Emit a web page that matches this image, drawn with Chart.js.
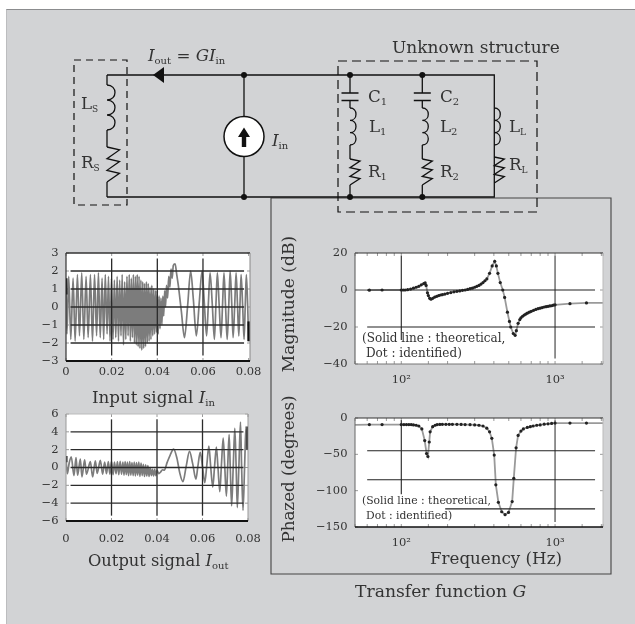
<!DOCTYPE html>
<html>
<head>
<meta charset="utf-8">
<script src="https://cdn.jsdelivr.net/npm/chart.js@4"></script>
<style>
html, body { margin: 0; padding: 0; background: #fff; }
body { width: 635px; height: 624px; position: relative; overflow: hidden; }
#sheet { position: absolute; left: 6px; top: 9px; right: 0; bottom: 0; background: #d2d3d5; border-top: 1px solid #8b8c8e; border-left: 1px solid #bcbdbf; }
canvas { position: absolute; }
#circuit { position: absolute; left: 0; top: 0; pointer-events: none; font-family: 'DejaVu Serif', serif; fill: #333; }
</style>
</head>
<body>
<div id="sheet"></div>
<canvas id="input-chart" width="235" height="142" style="left:30px;top:243px"></canvas>
<canvas id="output-chart" width="235" height="147" style="left:30px;top:404px"></canvas>
<canvas id="mag-chart" width="310" height="140" style="left:310px;top:243px"></canvas>
<canvas id="phase-chart" width="310" height="140" style="left:310px;top:408px"></canvas>
<svg id="circuit" width="635" height="624"></svg>
<script>
// values
const timeTicks = [0, 0.02, 0.04, 0.06, 0.08];
const timeTickLabels = ['0', '0.02', '0.04', '0.06', '0.08'];

const inputTicks = [-3, -2, -1, 0, 1, 2, 3];
const inputTime = [0, 0.0004, 0.0012, 0.0021, 0.0031, 0.0040, 0.0050, 0.0059, 0.0069, 0.0078, 0.0088, 0.0097, 0.0107, 0.0116, 0.0125, 0.0134, 0.0142, 0.0150, 0.0158, 0.0165, 0.0172, 0.0180, 0.0186, 0.0193, 0.0199, 0.0206, 0.0212, 0.0218, 0.0224, 0.0230, 0.0235, 0.0241, 0.0246, 0.0252, 0.0257, 0.0262, 0.0267, 0.0272, 0.0277, 0.0282, 0.0286, 0.0291, 0.0295, 0.0300, 0.0304, 0.0308, 0.0312, 0.0316, 0.0320, 0.0324, 0.0328, 0.0332, 0.0336, 0.0340, 0.0344, 0.0348, 0.0352, 0.0356, 0.0360, 0.0364, 0.0368, 0.0372, 0.0376, 0.0380, 0.0384, 0.0388, 0.0392, 0.0396, 0.0400, 0.0404, 0.0408, 0.0412, 0.0416, 0.0420, 0.0424, 0.0428, 0.0432, 0.0436, 0.0440, 0.0445, 0.0450, 0.0455, 0.0460, 0.0465, 0.0470, 0.0478, 0.0484, 0.0492, 0.0505, 0.0519, 0.0533, 0.0546, 0.0558, 0.0571, 0.0584, 0.0596, 0.0606, 0.0616, 0.0624, 0.0631, 0.0641, 0.0650, 0.0657, 0.0663, 0.0671, 0.0679, 0.0686, 0.0692, 0.0699, 0.0706, 0.0713, 0.0719, 0.0726, 0.0732, 0.0739, 0.0745, 0.0751, 0.0757, 0.0762, 0.0767, 0.0774, 0.0780, 0.0785, 0.0790, 0.0796, 0.0800];
const inputValues = [1.2, -1.5, 1.7, -1.8, 1.6, -1.9, 1.8, -1.6, 1.9, -1.8, 1.7, -1.7, 1.8, -1.9, 1.8, -1.6, 1.9, -1.7, 1.6, -1.8, 1.8, -1.5, 1.7, -1.9, 1.6, -1.8, 1.5, -1.7, 1.7, -1.9, 1.5, -1.6, 1.8, -2.1, 1.4, -1.8, 1.7, -1.6, 1.8, -1.9, 1.6, -1.7, 1.8, -2.0, 1.7, -2.1, 1.8, -2.2, 1.7, -2.3, 1.5, -2.4, 1.4, -2.3, 1.3, -2.2, 1.4, -2.0, 1.3, -1.9, 1.1, -1.8, 1.2, -1.6, 1.0, -1.5, 0.9, -1.4, 0.9, -1.5, 0.6, -1.2, 0.5, -1.0, 0.6, -0.5, 0.9, 0.0, 1.2, 0.5, 1.7, 1.1, 2.1, 1.6, 2.3, 2.4, 1.9, 1.2, -0.2, -1.7, 0.1, 2.0, 0.4, -1.6, 0.3, 2.0, 0.2, -1.6, 0.3, 1.9, 0.1, -1.8, 0.2, 1.9, 0.1, -1.7, 0.2, 1.9, 0.0, -1.8, 0.1, 2.0, 0.2, -1.7, 0.1, 1.9, 0.2, -1.6, 0.1, 1.8, 0.0, -1.8, 0.0, 1.8, 0.0, -1.9];
const inputGridValues = [-2, -1, 0, 1, 2];
const inputGridX = [0.002, 0.078];
const inputGridTimes = [0.02, 0.04, 0.06];
const inputGridY = [-2.7, 2.7];
const inputEdgeStart = [0.7, 1.6];
const inputEdgeEnd = [-1.9, -0.8];

const outputTicks = [-6, -4, -2, 0, 2, 4, 6];
const outputTime = [0, 0.0006, 0.0014, 0.0023, 0.0035, 0.0044, 0.0051, 0.0063, 0.0070, 0.0082, 0.0090, 0.0107, 0.0117, 0.0129, 0.0137, 0.0151, 0.0161, 0.0170, 0.0178, 0.0186, 0.0193, 0.0200, 0.0207, 0.0213, 0.0220, 0.0226, 0.0232, 0.0238, 0.0244, 0.0250, 0.0255, 0.0260, 0.0265, 0.0270, 0.0275, 0.0280, 0.0285, 0.0290, 0.0295, 0.0300, 0.0305, 0.0310, 0.0315, 0.0320, 0.0325, 0.0330, 0.0335, 0.0340, 0.0345, 0.0350, 0.0355, 0.0360, 0.0365, 0.0370, 0.0375, 0.0380, 0.0385, 0.0390, 0.0395, 0.0400, 0.0408, 0.0416, 0.0424, 0.0432, 0.0445, 0.0458, 0.0473, 0.0488, 0.0500, 0.0514, 0.0528, 0.0543, 0.0557, 0.0571, 0.0580, 0.0590, 0.0600, 0.0610, 0.0619, 0.0628, 0.0636, 0.0645, 0.0653, 0.0661, 0.0668, 0.0676, 0.0683, 0.0691, 0.0698, 0.0705, 0.0711, 0.0717, 0.0722, 0.0728, 0.0735, 0.0742, 0.0748, 0.0753, 0.0760, 0.0767, 0.0772, 0.0778, 0.0785, 0.0791, 0.0796, 0.0800];
const outputValues = [1.0, -0.7, 0.5, 1.2, -0.9, 1.1, -0.85, 0.95, -1.05, 0.85, -0.75, 0.65, -1.05, 0.75, -0.65, 0.8, -0.75, 0.6, -0.7, 0.65, -0.75, 0.7, -0.8, 0.6, -0.7, 0.65, -0.8, 0.7, -0.75, 0.6, -0.85, 0.65, -0.8, 0.6, -0.9, 0.65, -0.85, 0.55, -0.9, 0.6, -0.95, 0.55, -0.85, 0.6, -1.0, 0.5, -0.9, 0.35, -1.0, 0.3, -0.95, 0.2, -1.0, 0.0, -0.9, -0.2, -0.95, -0.2, -0.9, -0.3, -0.7, -0.5, -0.25, -0.3, 0.6, 1.4, 2.05, 1.0, -0.6, -1.6, 0.1, 1.8, 0.4, -1.3, 0.2, 1.7, 0.1, -1.7, 0.3, 2.4, 0.1, -2.2, 0.1, 2.3, 0.0, -2.7, 0.2, 3.3, 0.0, -3.2, 0.3, 3.7, 0.0, -4.3, 0.0, 4.4, 0.0, -4.5, 0.2, 5.1, 0.0, -4.8, 0.0, 4.6, 2.0];
const outputGridValues = [-4, -2, 0, 2, 4];
const outputGridX = [0.002, 0.078];
const outputGridTimes = [0.02, 0.04, 0.06];
const outputGridY = [-5.4, 5.4];
const outputEdgeStart = [0.6, 1.3];
const outputEdgeEnd = [2, 4.6];

const magTicks = [-40, -20, 0, 20];
const magFreq = [50, 62, 75, 100, 103, 106, 110, 115, 120, 125, 130, 135, 140, 143, 145, 148, 150, 153, 156, 160, 165, 170, 175, 180, 185, 192, 200, 210, 220, 230, 240, 250, 260, 270, 280, 290, 300, 310, 320, 330, 340, 350, 360, 375, 390, 405, 415, 425, 440, 457, 470, 490, 505, 515, 535, 550, 560, 575, 590, 600, 615, 630, 645, 660, 680, 700, 725, 750, 775, 800, 825, 850, 875, 900, 925, 950, 975, 1000, 1250, 1600, 2050];
const magTheory = [0, -0.1, 0, 0, 0, 0, 0.2, 0.5, 1, 1.5, 2, 2.8, 3.5, 3.8, 2.5, -1.5, -3, -4.5, -5, -4.5, -3.8, -3.4, -3, -2.7, -2.5, -2.2, -1.8, -1.4, -1, -0.7, -0.5, -0.2, 0, 0.3, 0.7, 1, 1.5, 2, 2.5, 3.2, 4, 5, 6, 9, 13, 15.5, 13, 9, 4, 0, -4, -12, -17, -20, -23.5, -24.5, -22, -18, -16, -15, -14.2, -13.5, -13, -12.5, -12, -11.5, -11, -10.5, -10.1, -9.8, -9.5, -9.2, -9, -8.8, -8.6, -8.5, -8.2, -8, -7.4, -7, -7];
const magDotFreq = magFreq.slice(1, -1);
const magIdentified = magTheory.slice(1, -1);
const magGridValues = [0, -20];
const magGridX = [60, 1820];
const magLine100 = [-27, 18.5];
const magLine1000 = [-37, 18.5];

const phaseTicks = [-150, -100, -50, 0];
const phaseFreq = [50, 62, 75, 100, 104, 108, 112, 116, 120, 125, 130, 136, 142, 146, 149, 152, 154, 160, 166, 171, 178, 185, 195, 205, 215, 230, 245, 260, 280, 300, 320, 340, 360, 375, 388, 402, 412, 428, 450, 473, 498, 526, 539, 558, 575, 600, 622, 660, 690, 720, 760, 800, 850, 900, 950, 1000, 1250, 1600, 2050];
const phaseTheory = [-9.5, -9, -9, -9, -9, -9, -9, -9, -9.5, -10, -11, -15, -31, -49, -53, -33, -19, -12, -10, -9, -8.8, -8.7, -8.7, -8.7, -8.7, -8.7, -8.8, -9, -9.2, -9.5, -10, -11, -14, -19, -28, -51, -92, -116, -129, -133, -130, -115, -83, -41, -24, -18, -15, -13, -12, -11, -10, -9.5, -8.5, -8, -7.5, -7, -7, -7, -7];
const phaseDotFreq = phaseFreq.slice(1, -1);
const phaseIdentified = phaseTheory.slice(1, -1);
const phaseGridValues = [-45, -85];
const phaseGridX = [60, 1820];
const phaseShortGridValue = -125;
const phaseShortGridX = [193, 1820];
const phaseLine100 = [-105, -3];
const phaseLine1000 = [-143, -3];

const LINE_GREY = '#7c7c7c';
const GRID_DARK = '#2b2b2b';
const TEXT = '#333';
const TICK_FONT = { family: "'DejaVu Serif', serif", size: 11.5 };

function zip(xs, ys) {
    return xs.map((x, i) => ({ x: x, y: ys[i] }));
}

function hLine(y, xs, color, width) {
    return { data: xs.map(x => ({ x: x, y: y })), borderColor: color || GRID_DARK, borderWidth: width || 1.3, pointRadius: 0, order: 0 };
}

function vLine(x, ys, color, width) {
    return { data: ys.map(y => ({ x: x, y: y })), borderColor: color || GRID_DARK, borderWidth: width || 1.3, pointRadius: 0, order: 0 };
}

function minusLabel(v) {
    return String(v).replace('-', '\u2212');
}

// white plot area, frame with a different tone per side, short inward ticks
const framePlugin = {
    id: 'frame',
    beforeDatasetsDraw(chart) {
        const a = chart.chartArea;
        const c = chart.ctx;
        c.save();
        c.fillStyle = '#fff';
        c.fillRect(a.left, a.top, a.width, a.height);
        c.lineWidth = 1;
        c.strokeStyle = '#9a9a9a';
        c.beginPath();
        chart.scales.x.ticks.forEach(t => {
            const px = chart.scales.x.getPixelForValue(t.value);
            c.moveTo(px, a.top); c.lineTo(px, a.top + 3);
            c.moveTo(px, a.bottom); c.lineTo(px, a.bottom - 3);
        });
        chart.scales.y.ticks.forEach(t => {
            const py = chart.scales.y.getPixelForValue(t.value);
            c.moveTo(a.left, py); c.lineTo(a.left + 3, py);
            c.moveTo(a.right, py); c.lineTo(a.right - 3, py);
        });
        c.stroke();
        c.restore();
    },
    afterDatasetsDraw(chart, args, opts) {
        const a = chart.chartArea;
        const c = chart.ctx;
        const side = (x0, y0, x1, y1, s) => {
            c.strokeStyle = s[0];
            c.lineWidth = s[1];
            c.beginPath();
            c.moveTo(x0, y0);
            c.lineTo(x1, y1);
            c.stroke();
        };
        c.save();
        side(a.left, a.top, a.right, a.top, opts.top);
        side(a.right, a.top, a.right, a.bottom, opts.right);
        side(a.left, a.top, a.left, a.bottom, opts.left);
        side(a.left, a.bottom, a.right, a.bottom, opts.bottom);
        c.restore();
    }
};

function buildChart(id, datasets, cfg) {
    const ctx = document.getElementById(id);
    return new Chart(ctx, {
        type: 'line',
        data: { datasets: datasets },
        plugins: [framePlugin],
        options: {
            responsive: false,
            animation: false,
            parsing: false,
            normalized: false,
            layout: { autoPadding: false, padding: cfg.padding },
            plugins: {
                legend: { display: false },
                tooltip: { enabled: false },
                frame: cfg.frame
            },
            elements: { line: { tension: 0 } },
            scales: {
                x: Object.assign({
                    border: { display: false },
                    grid: { display: false, drawTicks: false },
                    // keep the plot box where it is, labels may hang over the edge
                    afterFit(scale) {
                        scale.height = cfg.xHeight;
                        scale.paddingLeft = 0;
                        scale.paddingRight = 0;
                    }
                }, cfg.x),
                y: {
                    type: 'linear',
                    min: cfg.y.min,
                    max: cfg.y.max,
                    border: { display: false },
                    grid: { display: false, drawTicks: false },
                    afterBuildTicks(scale) { scale.ticks = cfg.y.ticks.map(v => ({ value: v })); },
                    afterFit(scale) {
                        scale.width = cfg.yWidth;
                        scale.paddingTop = 0;
                        scale.paddingBottom = 0;
                    },
                    ticks: { color: TEXT, font: TICK_FONT, padding: 7.5, autoSkip: false, callback: minusLabel }
                }
            }
        }
    });
}

function timeAxis(max, pad) {
    return {
        type: 'linear',
        min: 0,
        max: max,
        afterBuildTicks(scale) { scale.ticks = timeTicks.map(v => ({ value: v })); },
        ticks: { color: TEXT, font: TICK_FONT, padding: pad, maxRotation: 0, autoSkip: false,
            callback: v => timeTickLabels[timeTicks.indexOf(v)] }
    };
}

function freqAxis(pad) {
    return {
        type: 'logarithmic',
        min: 50,
        max: 2050,
        ticks: { color: TEXT, font: TICK_FONT, padding: pad, maxRotation: 0, autoSkip: false,
            callback: v => (v === 100 ? '10\u00b2' : v === 1000 ? '10\u00b3' : '') }
    };
}

function traceSet(xs, ys) {
    return { data: zip(xs, ys), borderColor: LINE_GREY, borderWidth: 1.7, pointRadius: 0, order: 1, cubicInterpolationMode: 'monotone' };
}

function dotSet(xs, ys) {
    return { data: zip(xs, ys), showLine: false, pointRadius: 1.6, pointBackgroundColor: '#222', pointBorderWidth: 0, order: 0 };
}

buildChart('input-chart', [
    ...inputGridValues.map(v => hLine(v, inputGridX)),
    ...inputGridTimes.map(v => vLine(v, inputGridY)),
    vLine(0, inputEdgeStart, '#111', 3),
    vLine(0.08, inputEdgeEnd, '#111', 2.5),
    traceSet(inputTime, inputValues)
], {
    x: timeAxis(0.0806, 4),
    y: { min: -3, max: 3, ticks: inputTicks },
    padding: { top: 10, right: 15, left: 0, bottom: 0 },
    xHeight: 24, yWidth: 36,
    frame: { top: ['#333', 1.5], left: ['#333', 1.2], right: ['#888', 1], bottom: ['#111', 2] }
});

buildChart('output-chart', [
    ...outputGridValues.map(v => hLine(v, outputGridX)),
    ...outputGridTimes.map(v => vLine(v, outputGridY)),
    vLine(0, outputEdgeStart, '#111', 3),
    vLine(0.08, outputEdgeEnd, '#111', 3),
    traceSet(outputTime, outputValues)
], {
    x: timeAxis(0.08, 11),
    y: { min: -6, max: 6, ticks: outputTicks },
    padding: { top: 10, right: 17, left: 0, bottom: 0 },
    xHeight: 30, yWidth: 36,
    frame: { top: ['#bbb', 1], left: ['#999', 1], right: ['#999', 1], bottom: ['#111', 2] }
});

buildChart('mag-chart', [
    dotSet(magDotFreq, magIdentified),
    ...magGridValues.map(v => hLine(v, magGridX, '#222', 1.1)),
    vLine(100, magLine100, '#222', 1.1),
    vLine(1000, magLine1000, '#777', 1.6),
    Object.assign(traceSet(magFreq, magTheory), { borderColor: '#9a9a9a', borderWidth: 1.8, order: 2, cubicInterpolationMode: 'default' })
], {
    x: freqAxis(9),
    y: { min: -40, max: 20, ticks: magTicks },
    padding: { top: 10, right: 17, left: 0, bottom: 0 },
    xHeight: 19, yWidth: 45,
    frame: { top: ['#333', 1.2], left: ['#555', 1], right: ['#bbb', 1], bottom: ['#777', 1] }
});

buildChart('phase-chart', [
    dotSet(phaseDotFreq, phaseIdentified),
    ...phaseGridValues.map(v => hLine(v, phaseGridX, '#222', 1.1)),
    hLine(phaseShortGridValue, phaseShortGridX, '#222', 1.1),
    vLine(100, phaseLine100, '#222', 1.1),
    vLine(1000, phaseLine1000, '#777', 1.6),
    Object.assign(traceSet(phaseFreq, phaseTheory), { borderColor: '#9a9a9a', borderWidth: 1.8, order: 2, cubicInterpolationMode: 'default' })
], {
    x: freqAxis(9),
    y: { min: -150, max: 0, ticks: phaseTicks },
    padding: { top: 10, right: 17, left: 0, bottom: 0 },
    xHeight: 21, yWidth: 45,
    frame: { top: ['#333', 1.2], left: ['#666', 1], right: ['#bbb', 1], bottom: ['#111', 1.6] }
});

// circuit diagram and captions
const TOP = 75, BOT = 197;
const shapes = [];

function coilPath(x, y0, y1, n, bulge) {
    const h = (y1 - y0) / n;
    let d = `M${x} ${y0}`;
    for (let i = 1; i <= n; i++) {
        d += `C${x + bulge * 1.33} ${y0 + h * (i - 1)} ${x + bulge * 1.33} ${y0 + h * i} ${x} ${y0 + h * i}`;
    }
    return d;
}

function resistorPath(x, y0, y1, n, amp) {
    const h = (y1 - y0) / (n * 2);
    let d = `M${x} ${y0}`;
    for (let i = 0; i < n * 2; i++) {
        d += `L${i % 2 ? x : x + amp} ${y0 + h * (i + 1) - (i % 2 ? 0 : h / 2)}`;
    }
    return d + `L${x} ${y1}`;
}

function wire(d, w, dash) {
    shapes.push(`<path d="${d}" fill="none" stroke="#111" stroke-width="${w || 1.3}"${dash ? ` stroke-dasharray="${dash}"` : ''}/>`);
}

function dot(x, y) {
    shapes.push(`<circle cx="${x}" cy="${y}" r="3" fill="#111"/>`);
}

function label(x, y, html, size, extra) {
    shapes.push(`<text x="${x}" y="${y}" font-size="${size}" ${extra || ''}>${html}</text>`);
}

function sub(t, size) {
    return `<tspan dy="3" font-size="${size || 10}">${t}</tspan><tspan dy="-3" font-size="1">&#8203;</tspan>`;
}

// panel behind the two Bode plots
shapes.push('<path d="M271 574V198H611V574Z" fill="none" stroke="#444" stroke-width="1.1"/>');

// main loop
wire(`M107 ${TOP}H494.3V${BOT}H107`);
wire(`M107 ${TOP}V85`);
wire(coilPath(107, 85, 130, 3, 8));
wire(`M107 130V147`);
wire(resistorPath(107, 147, 182, 3, 12.5));
wire(`M107 182V${BOT}`);
wire('M74 60H127V205H74Z', 1.2, '7 5');
wire('M338 61H537V212H338Z', 1.2, '9 5');
shapes.push(`<path d="M153 ${TOP}L164 ${TOP - 8}V${TOP + 8}Z" fill="#111"/>`);

// current source
wire(`M244 ${TOP}V${BOT}`);
shapes.push('<circle cx="244" cy="136.5" r="20" fill="#fff" stroke="#111" stroke-width="1.5"/>');
shapes.push('<path d="M244 127.5L250 137H246.2V147H241.8V137H238Z" fill="#111"/>');

// branches with a capacitor
[350, 422.3].forEach(x => {
    wire(`M${x} ${TOP}V93M${x - 8.5} 93H${x + 8.5}M${x - 8.5} 100.5H${x + 8.5}M${x} 100.5V108`);
    wire(coilPath(x, 108, 145, 3, 6));
    wire(`M${x} 145V159`);
    wire(resistorPath(x, 159, 185, 3, 10));
    wire(`M${x} 185V${BOT}`);
    dot(x, TOP);
    dot(x, BOT);
});
wire(coilPath(494.3, 108, 145, 3, 6));
wire(resistorPath(494.3, 157, 183, 3, 10));
dot(244, TOP);
dot(244, BOT);

const S = 16.7;
label(392, 53, 'Unknown structure', S + 0.3);
label(148, 61, `<tspan font-style="italic">I</tspan>${sub('out')} = <tspan font-style="italic">GI</tspan>${sub('in')}`, S);
label(272, 146, `<tspan font-style="italic">I</tspan>${sub('in')}`, S);
label(81, 109, `L${sub('S', 9)}`, S);
label(81, 168, `R${sub('S', 9)}`, S);
label(368, 102, `C${sub('1')}`, S);
label(440, 102, `C${sub('2')}`, S);
label(369, 132, `L${sub('1')}`, S);
label(440, 132, `L${sub('2')}`, S);
label(509, 132, `L${sub('L', 9)}`, S);
label(368, 177, `R${sub('1')}`, S);
label(440, 177, `R${sub('2')}`, S);
label(509, 170, `R${sub('L', 9)}`, S);

label(92, 403, `Input signal <tspan font-style="italic">I</tspan>${sub('in')}`, S);
label(88, 566, `Output signal <tspan font-style="italic">I</tspan>${sub('out')}`, S - 0.4);
label(355, 597, 'Transfer function <tspan font-style="italic">G</tspan>', S + 0.5);
label(430, 564, 'Frequency (Hz)', S);
label(294, 304, 'Magnitude (dB)', S + 0.4, 'text-anchor="middle" transform="rotate(-90 294 304)"');
label(294, 469, 'Phazed (degrees)', S, 'text-anchor="middle" transform="rotate(-90 294 469)"');
label(362, 342, '(Solid line : theoretical,', 12);
label(366, 357, 'Dot : identified)', 12);
label(362, 504, '(Solid line : theoretical,', 10.8);
label(366, 519, 'Dot : identified)', 10.8);

document.getElementById('circuit').innerHTML = shapes.join('');
</script>
</body>
</html>
